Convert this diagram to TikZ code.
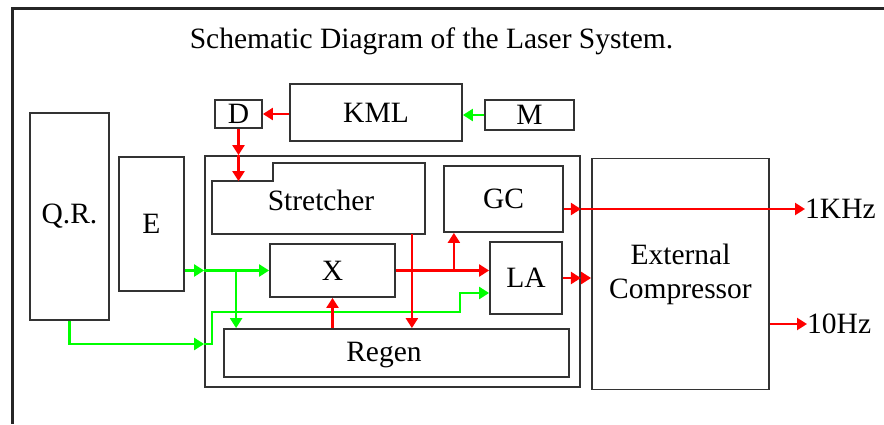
\documentclass[tikz,border=0pt]{standalone}
\usepackage{fontspec}
\setmainfont{Liberation Serif}
\usetikzlibrary{arrows.meta,calc,positioning}

\begin{document}
\begin{tikzpicture}[x=1pt, y=-1pt,
    blk/.style={rectangle, draw=black!80, line width=1.8pt, inner sep=0pt,
        text centered, font=\fontsize{29.5}{34}\selectfont},
    lbl/.style={inner sep=0pt, font=\fontsize{29.5}{34}\selectfont},
    rline/.style={draw, red, line width=2.3pt, -{Triangle[length=10pt, width=12pt]}},
    gline/.style={draw, green, line width=2.3pt, -{Triangle[length=10pt, width=12pt]}}]

    \useasboundingbox (0,0) rectangle (884,424);

    % ====== Frame and title ======
    \draw [black!85, line width=3pt] (884,8) -- (12,8) -- (12,424);
    \node [lbl] (title) at (431.5,41) {Schematic Diagram of the Laser System.};

    % ====== Front end ======
    \node [blk, minimum width=79pt, minimum height=207pt] (qr) at (69.5,216.5) {Q.R.};
    \node [blk, minimum width=65pt, minimum height=134pt] (e) at (151.5,224) {E};
    \node [blk, minimum width=172pt, minimum height=57pt] (kml) at (376,112.5) {KML};
    \node [blk, minimum width=47pt, minimum height=28pt] (d) at (238.5,114) {D};
    \node [blk, minimum width=89pt, minimum height=30pt] (m) at (529.5,115) {M};

    % ====== Amplifier system ======
    \node [blk, minimum width=375pt, minimum height=231pt] (sys) at (392.5,271.5) {};
    \node [blk, draw=none, minimum width=211pt, minimum height=51pt] (stretcher) at (318.5,207.5) {};
    \draw [black!80, line width=1.8pt] (stretcher.north west) -- ++(61,0) -- ++(0,-18)
        -| (stretcher.south east) -- (stretcher.south west) -- cycle;
    \node [lbl] (stretchtxt) at (321,200) {Stretcher};
    \node [blk, minimum width=125pt, minimum height=53pt] (x) at (332.5,270.5) {X};
    \node [blk, minimum width=345pt, minimum height=48pt] (regen) at (396.5,353) {};
    \node [lbl] (regentxt) at (384,355) {Regen};
    \node [blk, minimum width=119pt, minimum height=66pt] (gc) at (503.5,199) {GC};
    \node [blk, minimum width=72pt, minimum height=72pt] (la) at (526,278) {LA};

    % ====== Compressor and outputs ======
    \node [blk, minimum width=177pt, minimum height=231pt, align=center] (ext) at (680.5,274)
        {External\\Compressor};
    \node [lbl, anchor=west] (out1k) at (805,209) {1KHz};
    \node [lbl, anchor=west] (out10) at (807,324) {10Hz};

    % ====== Junctions ======
    \coordinate (ein) at (sys.west |- x.west);
    \coordinate (gj) at ($(ein)+(32,0)$);
    \coordinate (qin) at ($(sys.west)+(0,72.5)$);
    \coordinate (gbend) at (460,312);
    \coordinate (xj) at ($(x.east)+(58,0)$);
    \coordinate (sr) at ($(stretcher.south east)+(-13,0)$);
    \coordinate (gcout) at (gc.east |- out1k.west);

    % ====== Lines ======
    \path [rline] (kml.west |- d.east) -- (d.east);
    \path [gline] (m.west) -- (kml.east |- m.west);
    \path [rline] (d.south) -- (d.south |- sys.north);
    \path [rline] (d.south |- sys.north) -- (d.south |- stretcher.north);
    \path [gline] (e.east |- ein) -- (ein);
    \path [gline] (ein) -- (x.west);
    \path [gline] (gj) -- (gj |- regen.north);
    \path [gline] (qr.south) |- (qin);
    \path [gline] (qin) -- ++(8,0) |- (gbend) |- ([yshift=-15pt]la.west);
    \path [rline] (x.south |- regen.north) -- (x.south);
    \path [rline] (x.east) -- (x.east -| la.west);
    \path [rline] (xj) -- (xj |- gc.south);
    \path [rline] (sr) -- (sr |- regen.north);
    \path [rline] (gcout) -- (gcout -| sys.east);
    \path [rline] (gcout -| sys.east) -- (out1k.west);
    \path [rline] (la.east) -- (la.east -| sys.east);
    \path [rline] (la.east -| sys.east) -- (la.east -| ext.west);
    \path [rline] (ext.east |- out10.west) -- (out10.west);
\end{tikzpicture}
\end{document}
